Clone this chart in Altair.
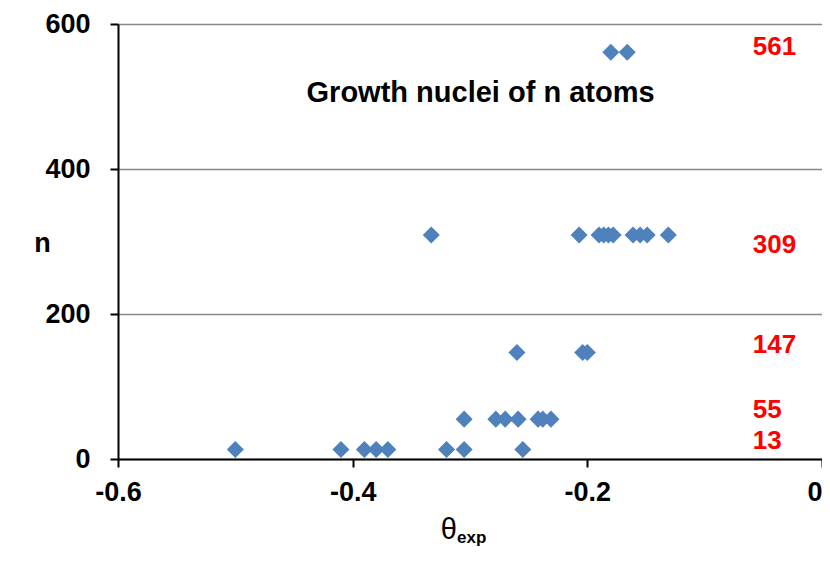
import altair as alt
import pandas as pd

# ---- data ----
theta_13 = [-0.50, -0.41, -0.39, -0.38, -0.37, -0.32, -0.305, -0.255]
theta_55 = [-0.305, -0.278, -0.270, -0.259, -0.242, -0.238, -0.231]
theta_147 = [-0.260, -0.204, -0.200]
theta_309 = [-0.333, -0.207, -0.190, -0.186, -0.182, -0.178, -0.161, -0.155, -0.149, -0.131]
theta_561 = [-0.180, -0.166]
series = {13: theta_13, 55: theta_55, 147: theta_147, 309: theta_309, 561: theta_561}

label_text = ["561", "309", "147", "55", "13"]
label_n = [568, 295, 157, 68, 25]
label_theta = -0.059

title_text = ["Growth nuclei of n atoms"]
title_theta = [-0.291]
title_n = [505]

x_ticks = [-0.6, -0.4, -0.2, 0]
y_ticks = [0, 200, 400, 600]

rows = []
for n, thetas in series.items():
    for t in thetas:
        rows.append({"theta": t, "n": n})
df = pd.DataFrame(rows)
lab_df = pd.DataFrame({"text": label_text, "n": label_n, "theta": [label_theta] * len(label_text)})
tit_df = pd.DataFrame({"text": title_text, "theta": title_theta, "n": title_n})

FONT = "Arial, Liberation Sans, sans-serif"

xscale = alt.Scale(domain=[-0.6, 0], nice=False, zero=False)
yscale = alt.Scale(domain=[0, 600], nice=False)

points = alt.Chart(df).mark_point(
    shape="diamond", filled=True, size=290, color="#4F81BD", opacity=1
).encode(
    x=alt.X("theta:Q", scale=xscale, axis=alt.Axis(
        values=x_ticks, title=None, grid=False, labelFlush=False,
        labelAlign={"condition": {"test": "datum.value == 0", "value": "right"}, "value": "center"},
        labelExpr="datum.value == 0 ? '0' : '-' + format(abs(datum.value), '.1f')",
        labelFontSize=27, labelFontWeight="bold", labelColor="black", labelFont=FONT,
        labelPadding=12, tickSize=8, tickWidth=2, tickColor="black",
        domainColor="black", domainWidth=2,
    )),
    y=alt.Y("n:Q", scale=yscale, axis=alt.Axis(
        values=y_ticks, title="n", grid=True, gridColor="#888888", gridWidth=1.5,
        labelFlush=False,
        labelFontSize=27, labelFontWeight="bold", labelColor="black", labelFont=FONT,
        labelPadding=20, tickSize=8, tickWidth=2, tickColor="black",
        domainColor="black", domainWidth=2,
        titleAngle=0, titleFontSize=27, titleFontWeight="bold", titleFont=FONT,
        titleColor="black", titleAlign="center", titleBaseline="middle",
        titleX=-76, titleY=219,
    )),
)

labels = alt.Chart(lab_df).mark_text(
    align="left", baseline="middle", fontSize=26, fontWeight="bold", color="#FF0000", font=FONT
).encode(x=alt.X("theta:Q", scale=xscale), y=alt.Y("n:Q", scale=yscale), text="text:N")

title = alt.Chart(tit_df).mark_text(
    align="center", baseline="middle", fontSize=29, fontWeight="bold", color="black", font=FONT
).encode(x=alt.X("theta:Q", scale=xscale), y=alt.Y("n:Q", scale=yscale), text="text:N")

xtitle_main = alt.Chart(pd.DataFrame({"t": ["θ"]})).mark_text(
    align="right", baseline="alphabetic", fontSize=29, color="black", font=FONT
).encode(x=alt.value(339), y=alt.value(515), text="t:N")

xtitle_sub = alt.Chart(pd.DataFrame({"t": ["exp"]})).mark_text(
    align="left", baseline="alphabetic", fontSize=17, fontWeight="bold", color="black", font=FONT
).encode(x=alt.value(339), y=alt.value(519), text="t:N")

chart = alt.layer(points, labels, title, xtitle_main, xtitle_sub).properties(
    width=704, height=435,
    autosize=alt.AutoSizeParams(type="none"),
    padding={"left": 110, "top": 16, "right": 0, "bottom": 88},
).configure_view(stroke=None).configure(background="white")

chart.save("out.html", embed_options={"renderer": "svg", "actions": False})
